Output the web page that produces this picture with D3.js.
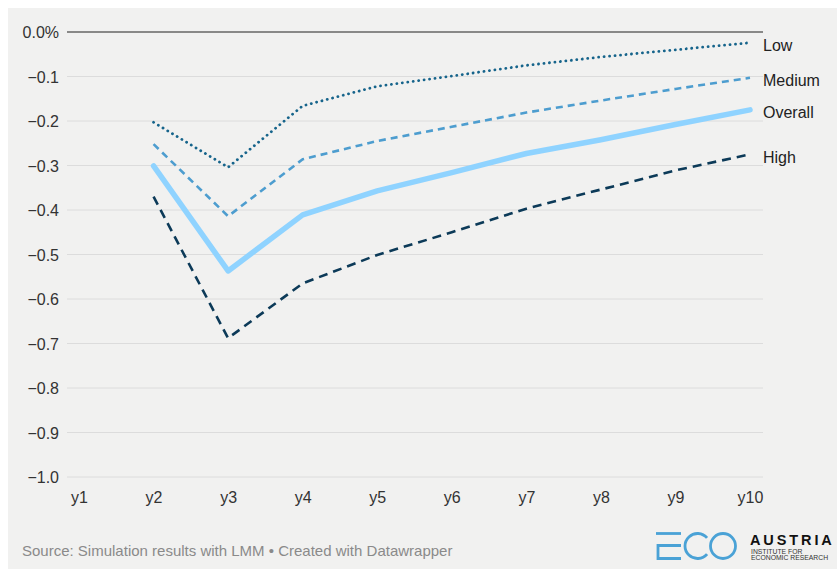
<!DOCTYPE html>
<html>
<head>
<meta charset="utf-8">
<script src="https://cdn.jsdelivr.net/npm/d3@7"></script>
<style>
  html, body { margin: 0; padding: 0; background: #ffffff; }
  svg { display: block; }
  text { font-family: "Liberation Sans", Arial, Helvetica, sans-serif; }
</style>
</head>
<body>
<svg id="chart" width="837" height="569"></svg>
<script>
// Years after entry
const categories = ["y1", "y2", "y3", "y4", "y5", "y6", "y7", "y8", "y9", "y10"];

// Effect in percent, by group (no value in y1)
const lowValues     = [null, -0.203, -0.304, -0.166, -0.122, -0.099, -0.075, -0.056, -0.040, -0.024];
const mediumValues  = [null, -0.252, -0.414, -0.286, -0.245, -0.213, -0.181, -0.154, -0.128, -0.103];
const overallValues = [null, -0.301, -0.537, -0.411, -0.357, -0.316, -0.273, -0.242, -0.208, -0.175];
const highValues    = [null, -0.370, -0.688, -0.565, -0.501, -0.450, -0.397, -0.354, -0.311, -0.275];

const seriesNames = ["Low", "Medium", "Overall", "High"];
const yTicks = [0, -0.1, -0.2, -0.3, -0.4, -0.5, -0.6, -0.7, -0.8, -0.9, -1.0];

const seriesStyle = {
  Low:     { color: "#16648b", width: 2.8, dash: "0.1 5.4", cap: "round" },
  Medium:  { color: "#4d9dcf", width: 2.6, dash: "7 5",     cap: "butt" },
  Overall: { color: "#8fd3ff", width: 5.5, dash: null,      cap: "round" },
  High:    { color: "#0c3a58", width: 2.6, dash: "9 6",     cap: "butt" }
};

const series = [
  { name: "Low", values: lowValues },
  { name: "Medium", values: mediumValues },
  { name: "Overall", values: overallValues },
  { name: "High", values: highValues }
];

const svg = d3.select("#chart");

// panel background
svg.append("rect")
  .attr("x", 8).attr("y", 8)
  .attr("width", 829).attr("height", 561)
  .attr("fill", "#f1f1f0");

const x = d3.scalePoint().domain(categories).range([79, 750]);
const y = d3.scaleLinear().domain([-1, 0]).range([477, 32]);
const gridX0 = 67, gridX1 = 763;

// horizontal grid + y labels
const fmt = v => v === 0 ? "0.0%" : d3.format(".1f")(v).replace("-", "\u2212");
const yAxis = d3.axisLeft(y).tickValues(yTicks).tickFormat(fmt).tickSize(0).tickPadding(0);
const gy = svg.append("g").attr("transform", `translate(${gridX0 - 8},0)`).call(yAxis);
gy.select(".domain").remove();
gy.selectAll("text")
  .attr("font-size", 16)
  .attr("fill", "#333")
  .attr("dy", "0.36em");

svg.append("g").selectAll("line")
  .data(yTicks)
  .join("line")
  .attr("x1", gridX0).attr("x2", gridX1)
  .attr("y1", d => y(d)).attr("y2", d => y(d))
  .attr("stroke", d => d === 0 ? "#666" : "#dcdcdc")
  .attr("stroke-width", d => d === 0 ? 1.6 : 1);

// x labels
const xAxis = d3.axisBottom(x).tickSize(0).tickPadding(0);
const gx = svg.append("g").attr("transform", "translate(0,503)").call(xAxis);
gx.select(".domain").remove();
gx.selectAll("text")
  .attr("font-size", 16)
  .attr("fill", "#333")
  .attr("dy", "0");

// lines
const line = d3.line()
  .defined(d => d.v !== null)
  .x(d => x(d.c))
  .y(d => y(d.v));

const order = ["High", "Overall", "Medium", "Low"];
order.forEach(name => {
  const s = series.find(d => d.name === name);
  const st = seriesStyle[name];
  const pts = s.values.map((v, i) => ({ c: categories[i], v }));
  svg.append("path")
    .datum(pts)
    .attr("d", line)
    .attr("fill", "none")
    .attr("stroke", st.color)
    .attr("stroke-width", st.width)
    .attr("stroke-linejoin", "round")
    .attr("stroke-linecap", st.cap)
    .attr("stroke-dasharray", st.dash);
});

// direct labels at line ends
series.forEach(s => {
  const last = s.values[s.values.length - 1];
  svg.append("text")
    .attr("x", 763)
    .attr("y", y(last) + 8.3)
    .attr("font-size", 16)
    .attr("fill", "#222")
    .text(s.name);
});

// footer
svg.append("text")
  .attr("x", 22).attr("y", 556)
  .attr("font-size", 15)
  .attr("fill", "#8a8a8a")
  .text("Source: Simulation results with LMM \u2022 Created with Datawrapper");

// ECO Austria mark
const logo = svg.append("g").attr("fill", "none").attr("stroke", "#4aa2d6").attr("stroke-width", 2.8);
logo.append("path").attr("d", "M656,533.5 H681");
logo.append("path").attr("d", "M681,545.5 H658 V558.5 H681");
const cR = 12.5, cX = 697.5, cY = 546, a = 40 * Math.PI / 180;
logo.append("path").attr("d",
  `M${cX + cR * Math.cos(a)},${cY - cR * Math.sin(a)} A${cR},${cR} 0 1 0 ${cX + cR * Math.cos(a)},${cY + cR * Math.sin(a)}`);
logo.append("circle").attr("cx", 723).attr("cy", 546).attr("r", 12.5);

svg.append("text")
  .attr("x", 750).attr("y", 544.5)
  .attr("font-size", 14.5)
  .attr("font-weight", "bold")
  .attr("letter-spacing", 2.9)
  .attr("fill", "#111")
  .text("AUSTRIA");
svg.append("text")
  .attr("x", 751).attr("y", 553.5)
  .attr("font-size", 6.8)
  .attr("fill", "#333")
  .text("INSTITUTE FOR");
svg.append("text")
  .attr("x", 751).attr("y", 560)
  .attr("font-size", 6.8)
  .attr("fill", "#333")
  .text("ECONOMIC RESEARCH");
</script>
</body>
</html>
